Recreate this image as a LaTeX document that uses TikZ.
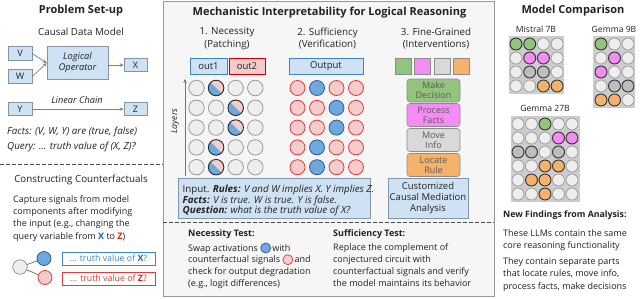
\documentclass[tikz,border=0pt]{standalone}
\usepackage{fontspec}
\setmainfont{Open Sans}
\usetikzlibrary{arrows.meta}
\definecolor{lb}{HTML}{CFE2F3}
\definecolor{bb}{HTML}{3D85C6}
\definecolor{pk}{HTML}{F4CCCC}
\definecolor{rd}{HTML}{CC0000}
\definecolor{rc}{HTML}{E03A3A}
\definecolor{bf}{HTML}{6FA8DC}
\definecolor{bd}{HTML}{2B5C94}
\definecolor{gn}{HTML}{93C47D}
\definecolor{mg}{HTML}{F58CF5}
\definecolor{gy}{HTML}{D9D9D9}
\definecolor{og}{HTML}{F6B26B}
\definecolor{pbg}{HTML}{F6F6F6}
\definecolor{txt}{HTML}{222222}
\definecolor{bxg}{HTML}{8294A8}
\definecolor{cmp}{HTML}{CDCDCD}
\definecolor{xb}{HTML}{1C5FB8}
\definecolor{zr}{HTML}{E02020}
\definecolor{wc}{HTML}{EEEEEE}
\definecolor{dc}{HTML}{BDBDBD}
\tikzset{
 every node/.style={text=txt, inner sep=0pt},
 ttl/.style={font=\fontsize{11}{12}\selectfont\bfseries},
 sub/.style={font=\fontsize{9.8}{12}\selectfont, align=center},
 bodyt/.style={font=\fontsize{9}{12.3}\selectfont, align=left},
 itl/.style={font=\fontsize{9.8}{12.3}\selectfont\itshape, align=left},
 lbox/.style={draw=bxg, fill=lb, line width=0.6pt, font=\fontsize{9}{10}\selectfont, minimum width=24pt, minimum height=14pt},
 arr/.style={draw=gray, line width=0.7pt, -{Stealth[length=4pt,width=3.5pt]}},
 outb/.style={draw=bb, fill=lb, line width=1pt, minimum height=16pt, font=\fontsize{9.5}{10}\selectfont},
 outr/.style={draw=rd, fill=pk, line width=1pt, minimum height=16pt, font=\fontsize{9.5}{10}\selectfont},
 cw/.style={circle, draw=black!40, fill=wc, line width=0.8pt, minimum size=15.5pt},
 cs/.style={circle, draw=black!85, fill=pk, line width=0.9pt, minimum size=15.5pt,
   path picture={\fill[bf] ([xshift=-1pt,yshift=1pt]path picture bounding box.north west) -- ([xshift=1pt,yshift=-1pt]path picture bounding box.south east) -- (path picture bounding box.south west) -- cycle;}},
 cr/.style={circle, draw=rc, fill=pk, line width=0.8pt, minimum size=15pt},
 cb/.style={circle, draw=bd, fill=bf, line width=0.8pt, minimum size=15pt},
 sq/.style={draw=black!45, line width=0.6pt, minimum size=16pt},
 fgb/.style={draw=black!45, rounded corners=3pt, line width=0.6pt, minimum width=53pt, minimum height=23pt, align=center, font=\fontsize{9}{9.8}\selectfont, text=black!65},
 mw/.style={circle, draw=black!40, fill=wc, line width=0.7pt, minimum size=12pt},
 mG/.style={circle, draw=black!80, fill=gn, line width=0.9pt, minimum size=12pt},
 mP/.style={circle, draw=black!80, fill=mg, line width=0.9pt, minimum size=12pt},
 mD/.style={circle, draw=black!80, fill=dc, line width=0.9pt, minimum size=12pt},
 mO/.style={circle, draw=black!80, fill=og, line width=0.9pt, minimum size=12pt},
 mlab/.style={font=\fontsize{8.6}{10}\selectfont},
}
\begin{document}
\begin{tikzpicture}[x=1pt,y=-1pt]
\useasboundingbox (0,0) rectangle (640,298);
\fill[white] (0,0) rectangle (640,298);
\draw[draw=black!40, fill=pbg, line width=0.8pt] (163,1.5) rectangle (494,296.5);

% ---------------- left panel
\node[ttl] (t1) at (81,11) {Problem Set-up};
\node[sub] (t2) at (81,32) {Causal Data Model};
\node[lbox] (V) at (20,53.5) {V};
\node[lbox] (W) at (20,76.5) {W};
\node[lbox, minimum width=61pt, minimum height=33pt, align=center, font=\fontsize{9.3}{11}\selectfont\itshape] (L) at (77.5,63) {Logical\\Operator};
\node[lbox, minimum width=23pt, minimum height=13pt] (X) at (135.5,65) {X};
\node[lbox, minimum height=12.5pt] (Y) at (20,109) {Y};
\node[lbox, minimum width=23pt, minimum height=12.5pt] (Z) at (135.5,109) {Z};
\draw[arr] (V.east) -- (L.west);
\draw[arr] (W.east) -- (L.west);
\draw[arr] (L.east |- X.west) -- (X.west);
\draw[arr] (Y.east) -- (Z.west);
\node[font=\fontsize{9.2}{11}\selectfont\itshape] (lc) at (77,100.5) {Linear Chain};
\node[itl, anchor=base west] (facts) at (7,134.5) {Facts: (V, W, Y) are (true, false)};
\node[itl, anchor=base west] (query) at (7,149.5) {Query: ... truth value of (X, Z)?};
\draw[black!70, dashed, line width=0.7pt, dash pattern=on 3.5pt off 2.5pt] (0,164) -- (163,164);
\node[sub] (t3) at (81,180) {Constructing Counterfactuals};
\node[bodyt, anchor=base west] (cap) at (13,239) {Capture signals from model\\components after modifying\\the input (e.g., changing the\\query variable from {\color{xb}\bfseries X} to {\color{zr}\bfseries Z})};
\node[circle, draw=black!45, fill=wc, line width=0.7pt, minimum size=14.5pt] (g0) at (20,267) {};
\node[circle, draw=bd, fill=bf, line width=0.8pt, minimum size=14pt] (g1) at (44,258.5) {};
\node[circle, draw=rc, fill=pk, line width=0.8pt, minimum size=14pt] (g2) at (45,277.5) {};
\draw[black!60, line width=0.7pt] (g0) -- (g1);
\draw[black!60, line width=0.7pt] (g0) -- (g2);
\node[draw=bb, fill=white, line width=0.8pt, minimum width=93pt, minimum height=13pt, font=\fontsize{8.8}{10}\selectfont, text=bb] (qx) at (108.5,258.5) {... truth value of {\color{xb}\bfseries X}?};
\node[draw=rc, fill=white, line width=0.8pt, minimum width=93pt, minimum height=13pt, font=\fontsize{8.8}{10}\selectfont, text=rc] (qz) at (108.5,278.5) {... truth value of {\color{zr}\bfseries Z}?};

% ---------------- center panel
\node[ttl] (t4) at (329.5,13) {Mechanistic Interpretability for Logical Reasoning};
\node[sub, font=\fontsize{9.8}{12.3}\selectfont] (h1) at (227,38.5) {1. Necessity\\(Patching)};
\node[sub, font=\fontsize{9.8}{12.3}\selectfont] (h2) at (327.5,38.5) {2. Sufficiency\\(Verification)};
\node[sub, font=\fontsize{9.8}{12.3}\selectfont] (h3) at (436,38.5) {3. Fine-Grained\\(Interventions)};
\node[outb, minimum width=37pt] (o1) at (208.5,66) {out1};
\node[outr, minimum width=36pt] (o2) at (247,66) {out2};
\node[outb, minimum width=74pt] (o3) at (326,66) {Output};

\foreach \row [count=\i, evaluate=\i as \y using 88+19.8*(\i-1)] in {{w,s,w,w},{w,w,s,w},{w,w,s,w},{w,s,w,w},{w,s,w,w}}{
  \foreach \t [count=\j, evaluate=\j as \x using 196.5+19.6*(\j-1)] in \row {
    \node[c\t] (n-\i-\j) at (\x,\y) {};
  }
}
\foreach \row [count=\i, evaluate=\i as \y using 88+19.8*(\i-1)] in {{r,b,r,r},{r,r,b,r},{r,r,b,r},{r,b,r,r},{r,b,r,r}}{
  \foreach \t [count=\j, evaluate=\j as \x using 278+19.5*\j] in \row {
    \node[c\t] (s-\i-\j) at (\x,\y) {};
  }
}
\coordinate (lay0) at (185,176);
\coordinate (lay1) at (185,79);
\draw[black!55, line width=0.7pt, -{Stealth[length=4pt,width=3.5pt]}] (lay0) -- (lay1);
\node[font=\fontsize{8.6}{10}\selectfont\itshape, rotate=90] (lay) at (175,121) {Layers};

\node[sq, fill=gn] (q1) at (403,66) {};
\node[sq, fill=mg] (q2) at (422.5,66) {};
\node[sq, fill=gy] (q3) at (442,66) {};
\node[sq, fill=og] (q4) at (461.5,66) {};
\node[fgb, fill=gn] (f1) at (433.5,90.5) {Make\\Decision};
\node[fgb, fill=mg] (f2) at (433.5,115) {Process\\Facts};
\node[fgb, fill=gy] (f3) at (433.5,140) {Move\\Info};
\node[fgb, fill=og] (f4) at (433.5,165) {Locate\\Rule};

\node[draw=bxg, fill=lb, line width=0.8pt, minimum width=192pt, minimum height=40pt] (inp) at (274,198) {};
\node[font=\fontsize{9.8}{10.8}\selectfont\itshape, align=left, anchor=base west] (inpt) at (182.5,213.8) {{\upshape Input.} \textbf{Rules:} V and W implies X. Y implies Z.\\\textbf{Facts:} V is true. W is true. Y is false.\\\textbf{Question:} what is the truth value of X?};
\node[draw=bxg, fill=lb, line width=0.8pt, minimum width=80pt, minimum height=40pt, align=center, font=\fontsize{9.5}{10.8}\selectfont] (cma) at (428,198) {Customized\\Causal Mediation\\Analysis};

\draw[black!70, dashed, line width=0.7pt, dash pattern=on 3.5pt off 2.5pt] (163,222) -- (494,222);

\node[font=\fontsize{9}{10}\selectfont\bfseries, anchor=base west] (nt) at (188,236.5) {Necessity Test:};
\node[bodyt, anchor=base west] (nt1) at (188,251) {Swap activations};
\node[circle, draw=bd, fill=bf, line width=0.7pt, minimum size=10pt] (ntc1) at ([xshift=7.5pt, yshift=3pt]nt1.base east) {};
\node[bodyt, anchor=base west] (nt1b) at ([xshift=14pt]nt1.base east) {with};
\node[bodyt, anchor=base west] (nt2) at (188,262.7) {counterfactual signals};
\node[circle, draw=rc, fill=pk, line width=0.7pt, minimum size=10pt] (ntc2) at ([xshift=7.5pt, yshift=3pt]nt2.base east) {};
\node[bodyt, anchor=base west] (nt2b) at ([xshift=14pt]nt2.base east) {and};
\node[font=\fontsize{9}{11.7}\selectfont, align=left, anchor=base west] (nt3) at (188,286) {check for output degradation\\(e.g., logit differences)};

\node[font=\fontsize{9}{10}\selectfont\bfseries, anchor=base west] (st) at (333,236.5) {Sufficiency Test:};
\node[font=\fontsize{9}{11.7}\selectfont, align=left, anchor=base west] (st1) at (333,286) {Replace the complement of\\conjectured circuit with\\counterfactual signals and verify\\the model maintains its behavior};

% ---------------- right panel
\node[ttl] (t5) at (573,11) {Model Comparison};
\node[mlab] (ml1) at (536,29.5) {Mistral 7B};
\node[mlab] (ml2) at (614,29.5) {Gemma 9B};
\node[mlab] (ml3) at (545,108.5) {Gemma 27B};
\fill[cmp] (509,36) rectangle (564,94);
\fill[cmp] (593,36) rectangle (635,108);
\fill[cmp] (511,116) rectangle (580,202);
\foreach \row [count=\i, evaluate=\i as \y using 44+14*(\i-1)] in {{G,G,w,w},{w,P,P,w},{w,D,D,w},{w,w,O,O}}{
  \foreach \t [count=\j, evaluate=\j as \x using 516+13.7*(\j-1)] in \row {
    \node[m\t] (a-\i-\j) at (\x,\y) {};
  }
}
\foreach \row [count=\i, evaluate=\i as \y using 44+14*(\i-1)] in {{G,w,w},{w,P,w},{P,w,w},{w,D,D},{O,O,w}}{
  \foreach \t [count=\j, evaluate=\j as \x using 601+13.5*(\j-1)] in \row {
    \node[m\t] (b-\i-\j) at (\x,\y) {};
  }
}
\foreach \row [count=\i, evaluate=\i as \y using 124+14*(\i-1)] in {{w,w,G,w,w},{w,w,w,P,P},{D,D,w,D,w},{w,w,O,O,w},{w,O,O,w,w},{w,w,O,w,w}}{
  \foreach \t [count=\j, evaluate=\j as \x using 518+13.5*(\j-1)] in \row {
    \node[m\t] (c-\i-\j) at (\x,\y) {};
  }
}
\node[font=\fontsize{8.8}{10}\selectfont\bfseries, anchor=base west] (nf) at (503,217) {New Findings from Analysis:};
\node[bodyt, anchor=base west] (nf1) at (503,248.3) {These LLMs contain the same\\core reasoning functionality};
\node[bodyt, anchor=base west] (nf2) at (503,289) {They contain separate parts\\that locate rules, move info,\\process facts, make decisions};
\end{tikzpicture}
\end{document}
